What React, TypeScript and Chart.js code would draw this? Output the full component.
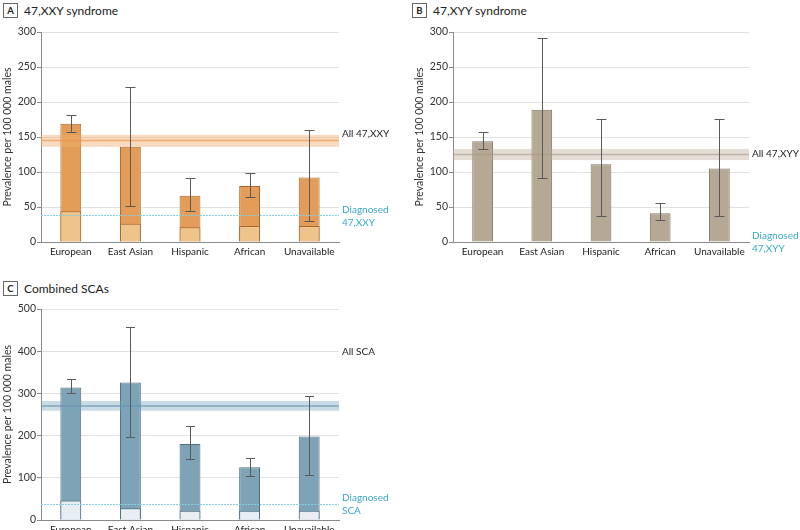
import React, { useEffect, useRef } from "react";
import { Chart, registerables } from "chart.js";
Chart.register(...registerables);

const FONT = 'Lato, "Noto Sans", sans-serif';

const categories = ["European", "East Asian", "Hispanic", "African", "Unavailable"];

// Panel A: 47,XXY
const xxyTotal = [169, 136, 66, 80, 92];
const xxyDiagnosed = [44, 26, 21, 23, 23];
const xxyLow = [157, 51, 45, 64, 30];
const xxyHigh = [182, 221, 92, 99, 160];
const xxyAll = [136, 145, 153];
const xxyDiagLine = 38;

// Panel B: 47,XYY
const xyyTotal = [144, 189, 111, 41, 105];
const xyyLow = [133, 91, 37, 31, 37];
const xyyHigh = [157, 292, 175, 56, 175];
const xyyAll = [117, 125, 133];
const xyyDiagLine = 0;

// Panel C: combined SCAs
const scaTotal = [314, 326, 180, 125, 198];
const scaDiagnosed = [46, 28, 22, 22, 22];
const scaLow = [300, 197, 144, 105, 106];
const scaHigh = [333, 458, 222, 148, 295];
const scaAll = [259, 270, 282];
const scaDiagLine = 39;

type Spec = {
  left: number; top: number; width: number; height: number;
  padTop: number; padLeft: number; padRight: number; xHeight: number;
  yMax: number; yStep: number;
  total: number[]; diagnosed: number[] | null;
  low: number[]; high: number[];
  band: number[]; diagLine: number; drawDiagLine: boolean;
  barFill: string; barBorder: string; diagFill: string;
  bandFill: string; bandLine: string;
  allLabel: string; allLabelValue: number; diagLabel: string[];
  capHalf: number;
};

function overlay(s: Spec) {
  return {
    id: "overlay",
    afterDatasetsDraw(chart: any) {
      const { ctx, chartArea, scales } = chart;
      const x = scales.x, y = scales.y;
      const L = chartArea.left, R = chartArea.right;
      ctx.save();
      // band
      const yHi = y.getPixelForValue(s.band[2]);
      const yLo = y.getPixelForValue(s.band[0]);
      ctx.fillStyle = s.bandFill;
      ctx.fillRect(L, yHi, R - L, yLo - yHi);
      const yMid = y.getPixelForValue(s.band[1]);
      ctx.strokeStyle = s.bandLine;
      ctx.lineWidth = 1.5;
      ctx.beginPath();
      ctx.moveTo(L, yMid);
      ctx.lineTo(R, yMid);
      ctx.stroke();
      // error bars
      ctx.strokeStyle = "#5a5a5a";
      ctx.lineWidth = 1;
      for (let i = 0; i < s.low.length; i++) {
        const px = Math.round(x.getPixelForValue(i)) + 0.5;
        const a = Math.round(y.getPixelForValue(s.high[i])) + 0.5;
        const b = Math.round(y.getPixelForValue(s.low[i])) + 0.5;
        ctx.beginPath();
        ctx.moveTo(px, a); ctx.lineTo(px, b);
        ctx.moveTo(px - s.capHalf, a); ctx.lineTo(px + s.capHalf, a);
        ctx.moveTo(px - s.capHalf, b); ctx.lineTo(px + s.capHalf, b);
        ctx.stroke();
      }
      // diagnosed line
      const yD = y.getPixelForValue(s.diagLine);
      if (s.drawDiagLine) {
        ctx.strokeStyle = "#86cde0";
        ctx.setLineDash([2, 1]);
        ctx.beginPath();
        ctx.moveTo(L, Math.round(yD) + 0.5);
        ctx.lineTo(R, Math.round(yD) + 0.5);
        ctx.stroke();
        ctx.setLineDash([]);
      }
      // labels
      ctx.font = `10px ${FONT}`;
      ctx.textAlign = "left";
      ctx.textBaseline = "middle";
      ctx.fillStyle = "#222";
      ctx.fillText(s.allLabel, R + 3, y.getPixelForValue(s.allLabelValue));
      ctx.fillStyle = "#3aa9c7";
      ctx.fillText(s.diagLabel[0], R + 3, yD - 6);
      ctx.fillText(s.diagLabel[1], R + 3, yD + 7);
      ctx.restore();
    },
  };
}

function ChartPanel({ s }: { s: Spec }) {
  const ref = useRef<HTMLCanvasElement>(null);
  useEffect(() => {
    const datasets: any[] = [];
    if (s.diagnosed) {
      datasets.push({
        data: s.diagnosed, backgroundColor: s.diagFill, borderColor: s.barBorder,
        borderWidth: 1, grouped: false, barPercentage: 0.35, categoryPercentage: 1, order: 0,
      });
    }
    datasets.push({
      data: s.total, backgroundColor: s.barFill, borderColor: s.barBorder,
      borderWidth: 1, grouped: false, barPercentage: 0.35, categoryPercentage: 1, order: 1,
    });
    const chart = new Chart(ref.current!, {
      type: "bar",
      data: { labels: categories, datasets },
      options: {
        animation: false,
        responsive: false,
        events: [],
        layout: { padding: { top: s.padTop, left: s.padLeft, right: s.padRight, bottom: 0 } },
        plugins: { legend: { display: false }, tooltip: { enabled: false } },
        scales: {
          x: {
            offset: true,
            grid: { display: false, drawTicks: false },
            border: { display: true, color: "#8a8a8a", width: 1 },
            ticks: { color: "#222", font: { family: FONT, size: 10 }, padding: 4, maxRotation: 0, autoSkip: false },
            afterFit: (sc: any) => { sc.height = s.xHeight; },
          },
          y: {
            min: 0, max: s.yMax,
            ticks: { stepSize: s.yStep, color: "#333", font: { family: FONT, size: 10.5 }, padding: 1 },
            grid: {
              color: (c: any) => (c.tick && c.tick.value === 0 ? "rgba(0,0,0,0)" : "#e2e2e2"),
              tickColor: "#8a8a8a", tickLength: 4,
            },
            border: { color: "#8a8a8a" },
            title: {
              display: true, text: "Prevalence per 100 000 males", color: "#333",
              font: { family: FONT, size: 10.5 }, padding: { top: 1, bottom: 0 },
            },
            afterFit: (sc: any) => { sc.width = 41; },
          },
        },
      } as any,
      plugins: [overlay(s) as any],
    });
    return () => chart.destroy();
  }, []);
  return (
    <canvas
      ref={ref}
      width={s.width}
      height={s.height}
      style={{ position: "absolute", left: s.left, top: s.top, width: s.width, height: s.height }}
    />
  );
}

function Title({ left, top, letter, text }: { left: number; top: number; letter: string; text: string }) {
  return (
    <div style={{ position: "absolute", left, top, height: 15, display: "flex", alignItems: "center", fontFamily: FONT }}>
      <div style={{
        width: 15, height: 15, boxSizing: "border-box", border: "1px solid #666",
        display: "flex", alignItems: "center", justifyContent: "center",
        fontSize: 9.5, fontWeight: "bold", color: "#222",
      }}>{letter}</div>
      <div style={{ marginLeft: 6, fontSize: 12, color: "#222", whiteSpace: "nowrap" }}>{text}</div>
    </div>
  );
}

const specA: Spec = {
  left: 0, top: 0, width: 400, height: 265, padTop: 32, padLeft: 0, padRight: 61, xHeight: 23,
  yMax: 300, yStep: 50, total: xxyTotal, diagnosed: xxyDiagnosed, low: xxyLow, high: xxyHigh,
  band: xxyAll, diagLine: xxyDiagLine, drawDiagLine: true,
  barFill: "#e39d58", barBorder: "#a9682f", diagFill: "#eec48c",
  bandFill: "rgba(240,175,110,0.45)", bandLine: "rgba(232,150,80,0.7)",
  allLabel: "All 47,XXY", allLabelValue: 154, diagLabel: ["Diagnosed", "47,XXY"], capHalf: 5,
};
const specB: Spec = {
  left: 400, top: 0, width: 400, height: 265, padTop: 32, padLeft: 12, padRight: 51, xHeight: 23,
  yMax: 300, yStep: 50, total: xyyTotal, diagnosed: null, low: xyyLow, high: xyyHigh,
  band: xyyAll, diagLine: xyyDiagLine, drawDiagLine: false,
  barFill: "#b5a995", barBorder: "#7f7363", diagFill: "#ddd",
  bandFill: "rgba(185,170,150,0.4)", bandLine: "rgba(170,150,130,0.6)",
  allLabel: "All 47,XYY", allLabelValue: 126, diagLabel: ["Diagnosed", "47,XYY"], capHalf: 5,
};
const specC: Spec = {
  left: 0, top: 270, width: 400, height: 270, padTop: 39, padLeft: 0, padRight: 61, xHeight: 20,
  yMax: 500, yStep: 100, total: scaTotal, diagnosed: scaDiagnosed, low: scaLow, high: scaHigh,
  band: scaAll, diagLine: scaDiagLine, drawDiagLine: true,
  barFill: "#7fa3b6", barBorder: "#4d6f80", diagFill: "#e8eef2",
  bandFill: "rgba(120,165,190,0.4)", bandLine: "rgba(100,145,170,0.7)",
  allLabel: "All SCA", allLabelValue: 398, diagLabel: ["Diagnosed", "SCA"], capHalf: 4.5,
};

export default function App() {
  return (
    <div style={{ position: "fixed", left: 0, top: 0, width: 800, height: 530, overflow: "hidden", background: "#fff" }}>
      <Title left={3} top={3} letter="A" text="47,XXY syndrome" />
      <Title left={412} top={3} letter="B" text="47,XYY syndrome" />
      <Title left={3} top={281} letter="C" text="Combined SCAs" />
      <ChartPanel s={specA} />
      <ChartPanel s={specB} />
      <ChartPanel s={specC} />
    </div>
  );
}
